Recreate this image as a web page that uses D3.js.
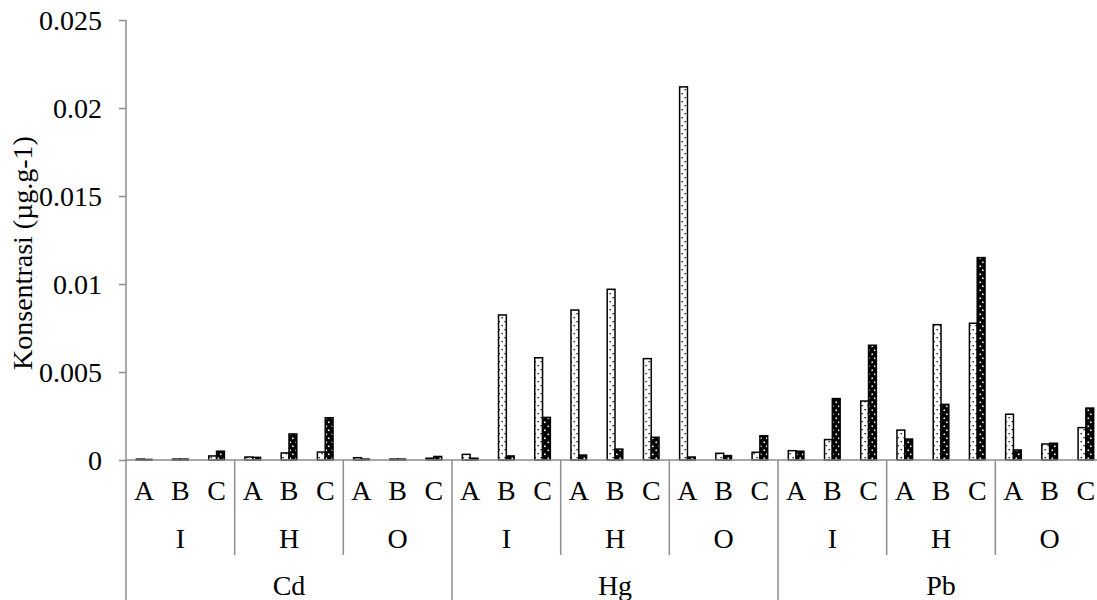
<!DOCTYPE html>
<html>
<head>
<meta charset="utf-8">
<script src="https://cdn.jsdelivr.net/npm/d3@7"></script>
<style>
  html, body { margin: 0; padding: 0; background: #fff; overflow: hidden; }
  svg { display: block; }
  text { font-family: "Liberation Serif", "Times New Roman", serif; fill: #000; }
</style>
</head>
<body>
<svg id="chart" width="1097" height="600"></svg>
<script>
// ---- data ----
const metals = ["Cd", "Hg", "Pb"];
const organs = ["I", "H", "O"];
const sites = ["A", "B", "C"];
const seriesNames = ["light", "dark"];
// values in order metal > organ > site (27 categories)
const lightValues = [
  0.00005, 0.00005, 0.00023,   // Cd I
  0.00017, 0.00040, 0.00045,   // Cd H
  0.00013, 0.00005, 0.00010,   // Cd O
  0.00032, 0.00824, 0.00581,   // Hg I
  0.00852, 0.00970, 0.00576,   // Hg H
  0.02120, 0.00038, 0.00044,   // Hg O
  0.00053, 0.00116, 0.00335,   // Pb I
  0.00170, 0.00769, 0.00777,   // Pb H
  0.00260, 0.00091, 0.00184    // Pb O
];
const darkValues = [
  0.00003, 0.00005, 0.00050,
  0.00015, 0.00148, 0.00240,
  0.00005, 0.00005, 0.00020,
  0.00010, 0.00023, 0.00242,
  0.00028, 0.00062, 0.00129,
  0.00017, 0.00025, 0.00138,
  0.00050, 0.00349, 0.00652,
  0.00119, 0.00316, 0.01150,
  0.00057, 0.00095, 0.00295
];
const yTicks = [0, 0.005, 0.01, 0.015, 0.02, 0.025];
const yLabel = "Konsentrasi (µg.g-1)";

// ---- build categories ----
const cats = [];
metals.forEach(m => organs.forEach(o => sites.forEach(s => cats.push({m, o, s, key: m + "|" + o + "|" + s}))));
cats.forEach((c, i) => { c.light = lightValues[i]; c.dark = darkValues[i]; });

const svg = d3.select("#chart");
const axisColor = "#8c8c8c";
const fontSize = 28;
const fontFam = '"Liberation Serif", "Times New Roman", serif';

const x0 = 126, x1 = 1104, yTop = 20, yBase = 460;
const x = d3.scaleBand().domain(cats.map(c => c.key)).range([x0, x1]).padding(0);
const xs = d3.scaleBand().domain(seriesNames).range([0, x.bandwidth()]).paddingInner(0).paddingOuter(1.32);
const y = d3.scaleLinear().domain([0, 0.025]).range([yBase, yTop]);

// ---- patterns ----
const defs = svg.append("defs");
const pl = defs.append("pattern").attr("id", "patLight").attr("patternUnits", "userSpaceOnUse")
  .attr("width", 6).attr("height", 8);
pl.append("rect").attr("width", 6).attr("height", 8).attr("fill", "#fff");
pl.append("rect").attr("x", 0.5).attr("y", 1).attr("width", 1.3).attr("height", 1.3).attr("fill", "#000");
pl.append("rect").attr("x", 3.5).attr("y", 5).attr("width", 1.3).attr("height", 1.3).attr("fill", "#000");

const pd = defs.append("pattern").attr("id", "patDark").attr("patternUnits", "userSpaceOnUse")
  .attr("width", 6).attr("height", 8);
pd.append("rect").attr("width", 6).attr("height", 8).attr("fill", "#000");
pd.append("rect").attr("x", 1.5).attr("y", 1.5).attr("width", 1.6).attr("height", 1.6).attr("fill", "#fff");
pd.append("rect").attr("x", 4).attr("y", 5.5).attr("width", 1.6).attr("height", 1.6).attr("fill", "#fff");

// ---- y axis ----
const yAxis = d3.axisLeft(y).tickValues(yTicks).tickSize(7).tickPadding(17)
  .tickFormat(d => d === 0 ? "0" : d3.format("")(+d.toFixed(3)));
const gy = svg.append("g").attr("transform", `translate(${x0},0)`).call(yAxis);
gy.attr("font-family", null).attr("font-size", null);
gy.select(".domain").remove();
gy.selectAll(".tick line").attr("stroke", axisColor).attr("stroke-width", 1.5);
gy.selectAll(".tick text").attr("font-size", fontSize).attr("dy", "0.34em")
  .style("font-family", fontFam);
svg.append("line").attr("x1", x0).attr("x2", x0).attr("y1", yTop).attr("y2", 600)
  .attr("stroke", axisColor).attr("stroke-width", 1.5);

svg.append("text").attr("transform", `translate(32,253) rotate(-90)`)
  .attr("text-anchor", "middle").attr("font-size", fontSize).style("font-family", fontFam).text(yLabel);

// ---- bars ----
const g = svg.append("g");
cats.forEach(c => {
  const bx = x(c.key);
  g.append("rect").attr("x", bx + xs("light")).attr("width", xs.bandwidth())
    .attr("y", y(c.light)).attr("height", yBase - y(c.light))
    .attr("fill", "url(#patLight)").attr("stroke", "#000").attr("stroke-width", 1.5);
  g.append("rect").attr("x", bx + xs("dark")).attr("width", xs.bandwidth())
    .attr("y", y(c.dark)).attr("height", yBase - y(c.dark))
    .attr("fill", "url(#patDark)").attr("stroke", "#000").attr("stroke-width", 1.5);
});

// ---- x axis baseline ----
svg.append("line").attr("x1", x0).attr("x2", 1097).attr("y1", yBase).attr("y2", yBase)
  .attr("stroke", axisColor).attr("stroke-width", 1.5);

// ---- category labels ----
const lab = (xx, yy, t) => svg.append("text").attr("x", xx).attr("y", yy)
  .attr("text-anchor", "middle").attr("font-size", fontSize).style("font-family", fontFam).text(t);
cats.forEach(c => lab(x(c.key) + x.bandwidth() / 2, 500, c.s));
const step = x.step();
metals.forEach((m, mi) => {
  organs.forEach((o, oi) => {
    const start = x0 + (mi * 9 + oi * 3) * step;
    lab(start + 1.5 * step, 548, o);
    if (oi > 0) {
      svg.append("line").attr("x1", start).attr("x2", start).attr("y1", yBase).attr("y2", 555)
        .attr("stroke", axisColor).attr("stroke-width", 1.5);
    }
  });
  const mstart = x0 + mi * 9 * step;
  lab(mstart + 4.5 * step, 595, m);
  if (mi > 0) {
    svg.append("line").attr("x1", mstart).attr("x2", mstart).attr("y1", yBase).attr("y2", 600)
      .attr("stroke", axisColor).attr("stroke-width", 1.5);
  }
});
</script>
</body>
</html>
